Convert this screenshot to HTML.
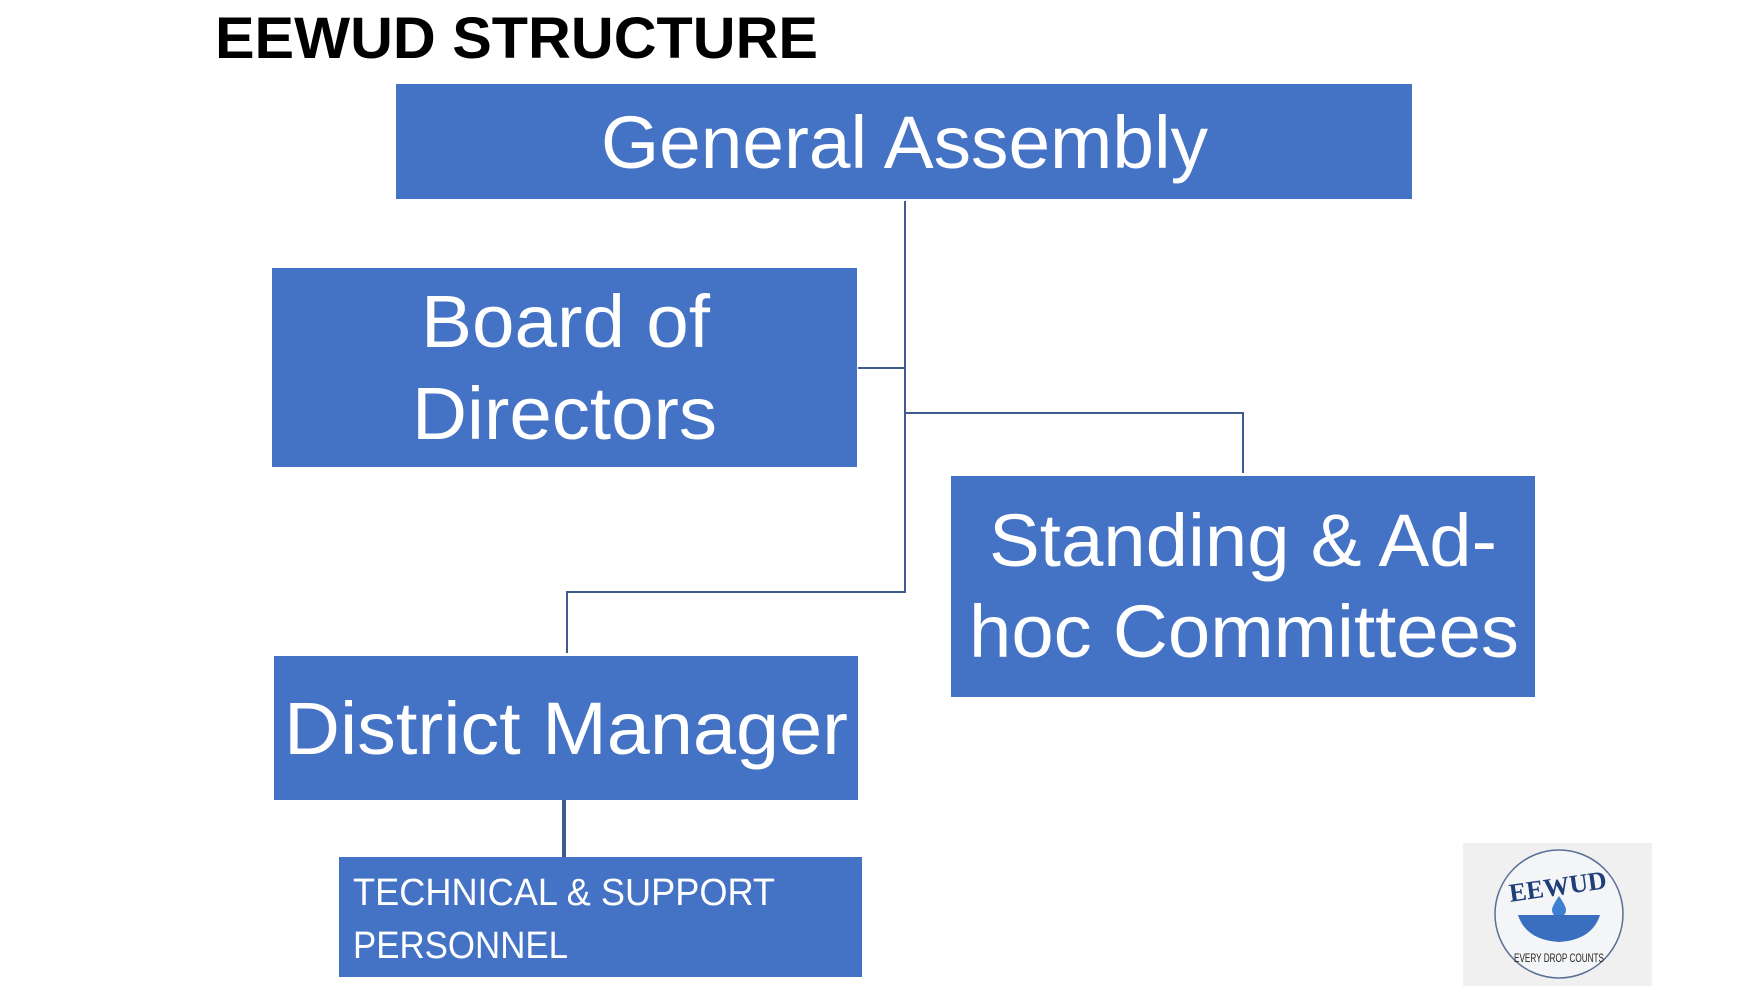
<!DOCTYPE html>
<html><head><meta charset="utf-8"><style>
html,body{margin:0;padding:0;background:#fff;width:1756px;height:986px;overflow:hidden}
svg{display:block}
</style></head><body>
<svg width="1756" height="986" viewBox="0 0 1756 986" xmlns="http://www.w3.org/2000/svg">
<text x="215" y="58" font-family="Liberation Sans, sans-serif" font-weight="bold" font-size="58" fill="#000" textLength="603" lengthAdjust="spacingAndGlyphs">EEWUD STRUCTURE</text>
<g fill="#4472C4">
<rect x="396" y="84" width="1016" height="115"/>
<rect x="272" y="268" width="585" height="199"/>
<rect x="951" y="476" width="584" height="221"/>
<rect x="274" y="656" width="584" height="144"/>
<rect x="339" y="857" width="523" height="120"/>
</g>
<g stroke="#3f5b8f" stroke-width="2" fill="none">
<path d="M905 201 V592 H567 V653"/>
<path d="M858 368 H905"/>
<path d="M905 413 H1243 V473"/>
</g>
<path d="M564 800 V857" stroke="#3f5b8f" stroke-width="4"/>
<g font-family="Liberation Sans, sans-serif" fill="#fff">
<text x="601" y="168" font-size="74" textLength="607" lengthAdjust="spacingAndGlyphs">General Assembly</text>
<text x="421" y="347" font-size="74" textLength="289" lengthAdjust="spacingAndGlyphs">Board of</text>
<text x="412" y="439" font-size="74" textLength="305" lengthAdjust="spacingAndGlyphs">Directors</text>
<text x="989" y="566" font-size="74" textLength="508" lengthAdjust="spacingAndGlyphs">Standing &amp; Ad-</text>
<text x="969" y="657" font-size="74" textLength="550" lengthAdjust="spacingAndGlyphs">hoc Committees</text>
<text x="284" y="754" font-size="74" textLength="564" lengthAdjust="spacingAndGlyphs">District Manager</text>
<text x="353" y="905" font-size="38" textLength="422" lengthAdjust="spacingAndGlyphs">TECHNICAL &amp; SUPPORT</text>
<text x="353" y="958" font-size="38" textLength="215" lengthAdjust="spacingAndGlyphs">PERSONNEL</text>
</g>
<rect x="1463" y="843" width="189" height="143" fill="#f0f0f0"/>
<circle cx="1559" cy="914" r="64" fill="#f4f5f7" stroke="#5b6f95" stroke-width="1.5"/>
<text x="1559" y="895" text-anchor="middle" font-family="Liberation Serif, serif" font-weight="bold" font-size="26" fill="#1f3f7a" transform="rotate(-8 1559 895)">EEWUD</text>
<path d="M1559 896 q-7 10 -7 14 a7 7 0 0 0 14 0 q0 -4 -7 -14z" fill="#3d7fd0"/>
<path d="M1518 915 H1600 Q1592 940 1559 942 Q1526 940 1518 915z" fill="#3a6fc0"/>
<text x="1559" y="962" text-anchor="middle" font-family="Liberation Sans, sans-serif" font-size="12" fill="#222" textLength="90" lengthAdjust="spacingAndGlyphs">EVERY DROP COUNTS</text>
</svg>
</body></html>
